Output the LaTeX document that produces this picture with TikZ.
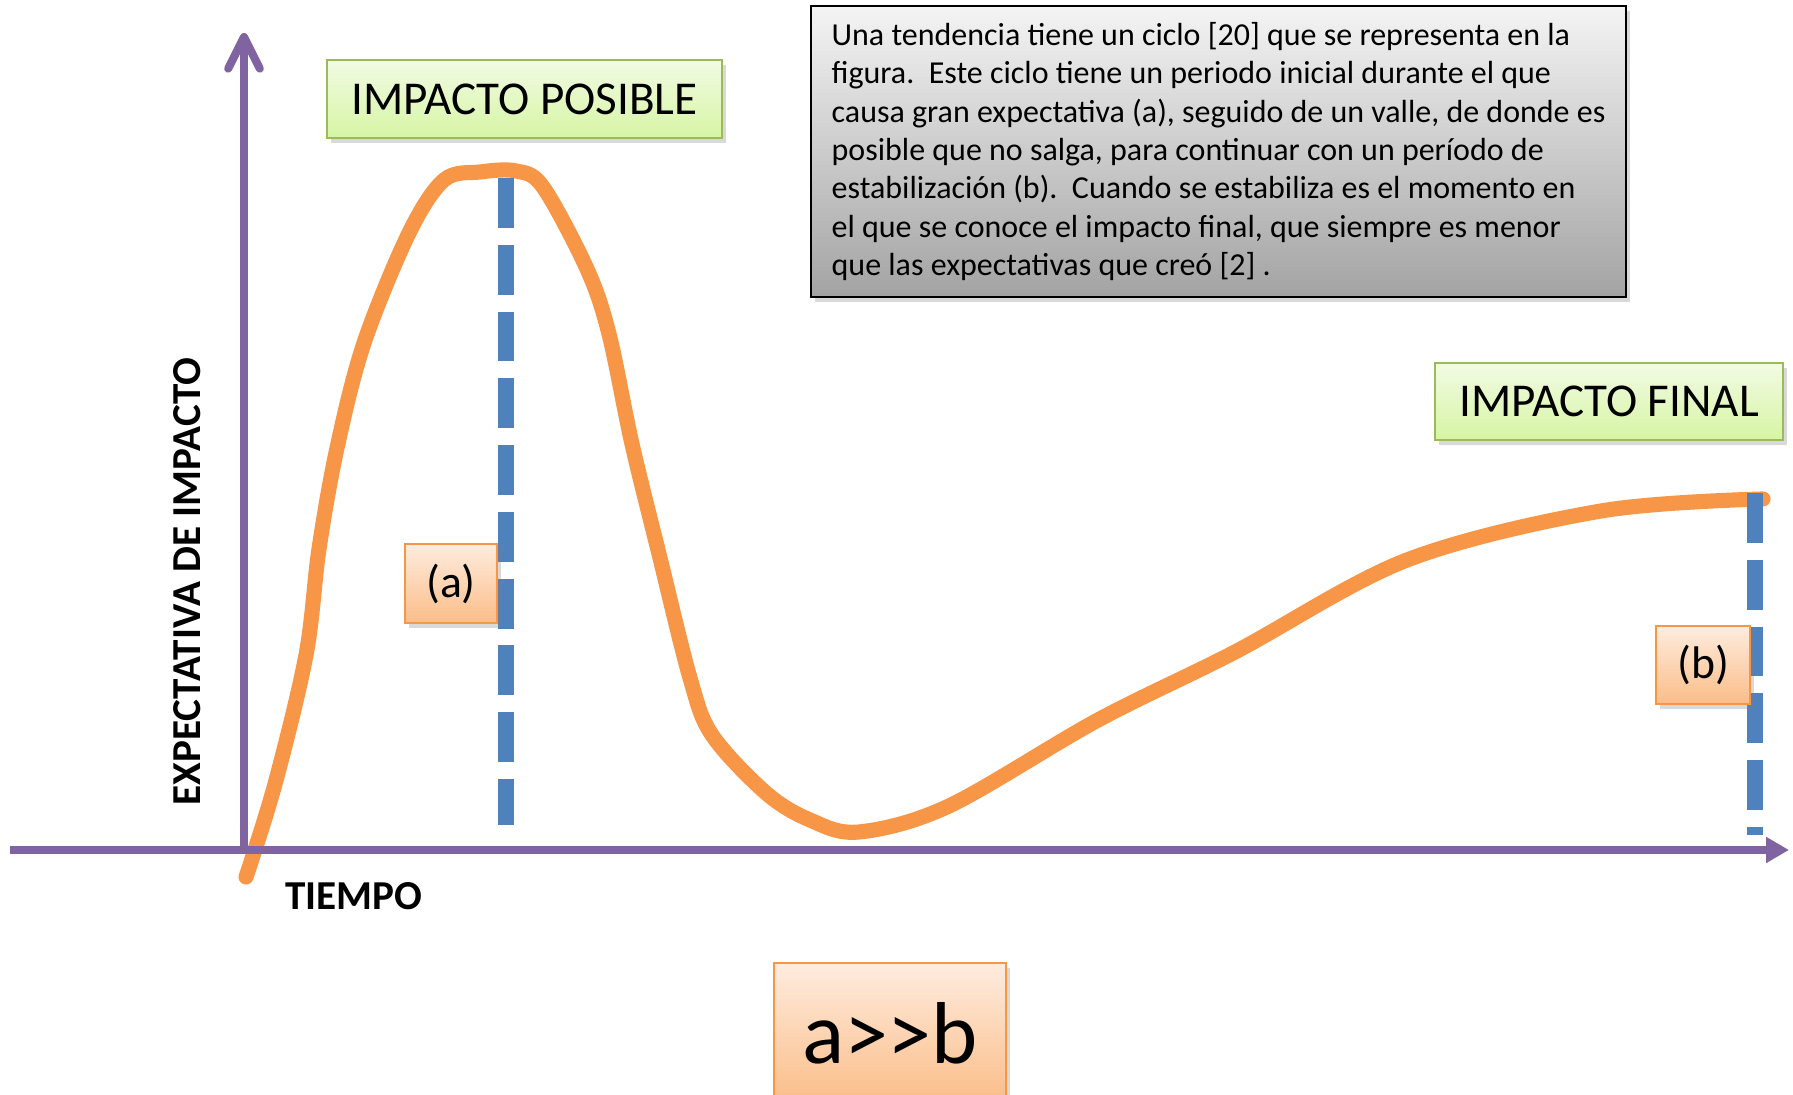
\documentclass[tikz,border=0pt]{standalone}
\usepackage{fontspec}
\setmainfont{Carlito}
\usetikzlibrary{arrows.meta,shadows}

\definecolor{axispurple}{HTML}{8064A2}
\definecolor{curveorange}{HTML}{F79646}
\definecolor{markblue}{HTML}{4F81BD}
\definecolor{greenedge}{HTML}{9BBB59}
\definecolor{greentop}{HTML}{F2FBE4}
\definecolor{greenbot}{HTML}{D6F5A4}
\definecolor{peachtop}{HTML}{FEECDF}
\definecolor{peachbot}{HTML}{FBBD88}
\definecolor{graytop}{HTML}{F4F4F4}
\definecolor{graybot}{HTML}{A3A3A3}

\tikzset{
	softshadow/.style={drop shadow={shadow xshift=1pt, shadow yshift=-1.5pt, opacity=0.3}},
	greenbox/.style={draw=greenedge, line width=0.7pt, top color=greentop, bottom color=greenbot, softshadow, inner sep=0pt, font=\fontsize{13.4}{16}\selectfont},
	peachbox/.style={draw=curveorange, line width=0.8pt, top color=peachtop, bottom color=peachbot, softshadow, inner sep=0pt},
	infobox/.style={draw=black, line width=0.7pt, top color=graytop, bottom color=graybot, softshadow, align=left, inner sep=0pt, font=\fontsize{9.1}{10.9}\selectfont},
	axisline/.style={line width=2.3pt, color=axispurple},
	curveline/.style={line width=4.3pt, color=curveorange, line cap=round, line join=round},
	markline/.style={line width=4.5pt, color=markblue, dash pattern=on 14.2pt off 4.8pt},
	axislabel/.style={font=\bfseries\fontsize{11.7}{14}\selectfont},
}

\begin{document}
\begin{tikzpicture}
			%%%%% START %%%%%
			\useasboundingbox (0, 0) rectangle (17.93, 10.95);
			
			% hype curve
			\draw[curveline] plot[smooth, tension=0.55] coordinates {
				(2.46, 2.18) (2.75, 3.11) (3.06, 4.40) (3.19, 5.46) (3.37, 6.47)
				(3.64, 7.52) (4.09, 8.62) (4.44, 9.15) (4.80, 9.23) (5.16, 9.24)
				(5.43, 9.08) (5.87, 8.26) (6.09, 7.61) (6.32, 6.51) (6.59, 5.41)
				(6.90, 4.17) (7.12, 3.60) (7.66, 3.02) (8.10, 2.75) (8.59, 2.63)
				(9.49, 2.89) (10.98, 3.75) (12.35, 4.43) (14.07, 5.35) (16.01, 5.84)
				(17.63, 5.96)};
			
			% markers
			\coordinate (peaktop) at (5.06, 9.17);
			\coordinate (peakfoot) at (5.06, 2.70);
			\coordinate (endtop) at (17.55, 6.02);
			\coordinate (endfoot) at (17.55, 2.60);
			\draw[markline] (peaktop) -- (peakfoot);
			\draw[markline] (endtop) -- (endfoot);
			
			% axes
			\coordinate (xstart) at (0.10, 2.45);
			\coordinate (xend) at (17.89, 2.45);
			\coordinate (origin) at (2.44, 2.45);
			\coordinate (ytop) at (2.44, 10.62);
			\draw[axisline, -{Triangle[length=6.5pt, width=7pt]}] (xstart) -- (xend);
			\draw[axisline, -{Straight Barb[length=9pt, width=9pt, round]}] (origin) -- (ytop);
			
			\node[axislabel, anchor=base] (tiempo) at (3.54, 1.85) {TIEMPO};
			\node[axislabel, rotate=90, anchor=base] (expectativa) at (2.00, 5.135) {EXPECTATIVA DE IMPACTO};
			
			% boxes
			\node[greenbox, minimum width=3.95cm, minimum height=0.78cm] (posible) at (5.245, 9.96) {IMPACTO POSIBLE};
			\node[greenbox, minimum width=3.48cm, minimum height=0.77cm] (final) at (16.09, 6.935) {IMPACTO FINAL};
			
			\node[peachbox, minimum width=0.92cm, minimum height=0.79cm, font=\fontsize{13}{16}\selectfont] (marka) at (4.51, 5.115) {(a)};
			\node[peachbox, minimum width=0.94cm, minimum height=0.78cm, font=\fontsize{13}{16}\selectfont] (markb) at (17.03, 4.30) {(b)};
			\node[peachbox, minimum width=2.32cm, minimum height=1.40cm, font=\fontsize{25}{30}\selectfont] (ratio) at (8.90, 0.62) {a>{}>b};
			
			\node[infobox, minimum width=8.15cm, minimum height=2.91cm] (nota) at (12.185, 9.435) {Una tendencia tiene un ciclo [20] que se representa en la\\
				figura.\ \ Este ciclo tiene un periodo inicial durante el que\\
				causa gran expectativa (a), seguido de un valle, de donde es\\
				posible que no salga, para continuar con un período de\\
				estabilización (b).\ \ Cuando se estabiliza es el momento en\\
				el que se conoce el impacto final, que siempre es menor\\
				que las expectativas que creó [2] .};
			
			%%%%% END %%%%%
\end{tikzpicture}
\end{document}
